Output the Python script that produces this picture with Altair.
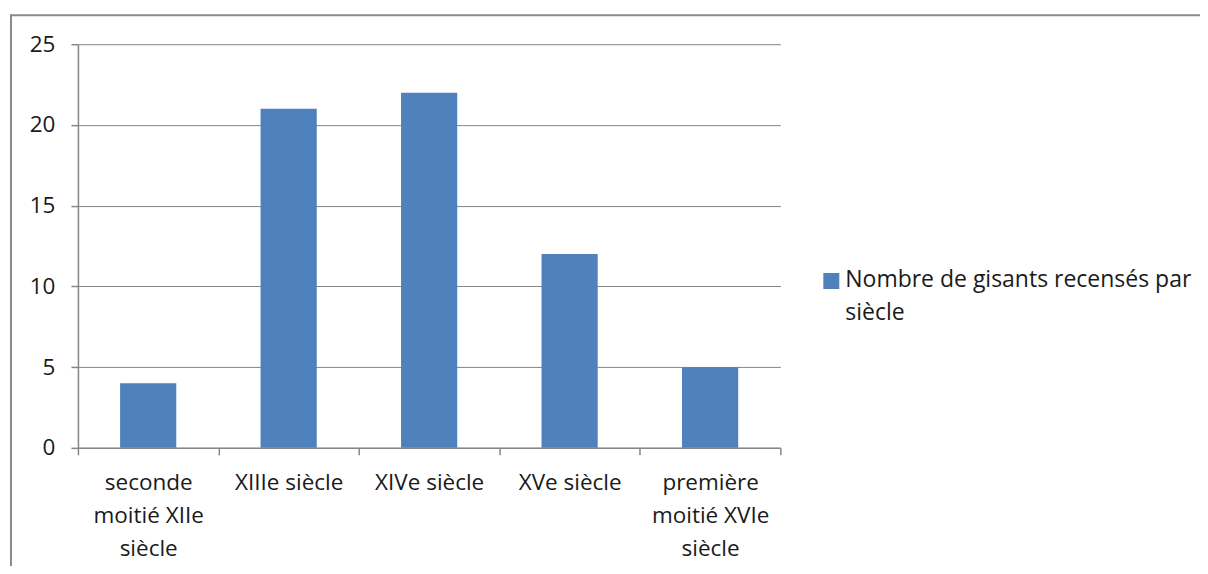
import altair as alt
import pandas as pd

categories = ["seconde\nmoitié XIIe\nsiècle", "XIIIe siècle", "XIVe siècle", "XVe siècle", "première\nmoitié XVIe\nsiècle"]
values = [4, 21, 22, 12, 5]
series_name = "Nombre de gisants recensés par\nsiècle"
y_ticks = [0, 5, 10, 15, 20, 25]

df = pd.DataFrame({"periode": categories, "n": values, "serie": [series_name] * len(values)})
legend_df = pd.DataFrame({"serie": [series_name]})

FONT = "Open Sans"
FS = 22.5
GRAY = "#868686"
BLUE = "#4F81BD"

bars = alt.Chart(df).mark_bar(width=alt.RelativeBandSize(0.4), color=BLUE).encode(
    x=alt.X("periode:N", sort=categories,
            scale=alt.Scale(paddingInner=0, paddingOuter=0),
            axis=alt.Axis(title=None, labelAngle=0, labelExpr="split(datum.label, '\\n')",
                          tickBand="extent", tickSize=7, tickColor=GRAY, domainColor=GRAY,
                          labelPadding=17, labelLineHeight=33, grid=False, labelBaseline="top")),
    y=alt.Y("n:Q", scale=alt.Scale(domain=[0, 25], nice=False),
            axis=alt.Axis(title=None, values=y_ticks, tickSize=7, tickColor=GRAY, domainColor=GRAY,
                          gridColor=GRAY, labelPadding=16)),
)

legend_sym = alt.Chart(legend_df).mark_square(size=256, color=BLUE, opacity=1).encode(
    x=alt.value(754), y=alt.value(237))
legend_txt = alt.Chart(legend_df).transform_calculate(
    lines="split(datum.serie, '\\n')"
).mark_text(align="left", baseline="middle", font=FONT, fontSize=23, color="#1a1a1a",
            lineHeight=33).encode(
    x=alt.value(768), y=alt.value(236), text="lines:N")

frame_df = pd.DataFrame({"k": [0]})
top_line = alt.Chart(frame_df).mark_rule(color="#8a8a8a", strokeWidth=2).encode(
    x=alt.value(-67), x2=alt.value(1200), y=alt.value(-29))
left_line = alt.Chart(frame_df).mark_rule(color="#8a8a8a", strokeWidth=2).encode(
    x=alt.value(-67), y=alt.value(-30), y2=alt.value(560))

chart = alt.layer(top_line, left_line, bars, legend_sym, legend_txt).properties(
    width=703, height=404,
    autosize=alt.AutoSizeParams(type="none"),
    padding={"left": 70, "top": 36, "right": 420, "bottom": 118},
).configure_view(stroke=None).configure_axis(
    labelFont=FONT, labelFontSize=FS, labelColor="#1a1a1a", gridWidth=1, domainWidth=1.5, tickWidth=1.5
)

chart.save("out.html", embed_options={"renderer": "svg", "actions": False})
